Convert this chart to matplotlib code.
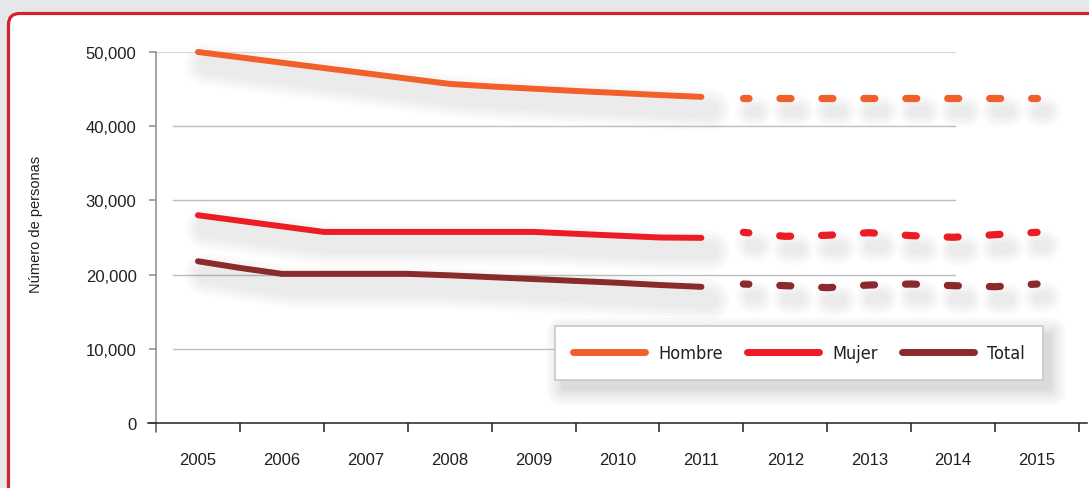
import matplotlib
matplotlib.use('Agg')
import matplotlib.pyplot as plt
import matplotlib.transforms as mtransforms
from matplotlib.lines import Line2D
from matplotlib.patches import FancyBboxPatch
from matplotlib.ticker import FuncFormatter, FixedLocator

plt.rcParams['lines.scale_dashes'] = False

years = [2005, 2006, 2007, 2008, 2009, 2010, 2011, 2012, 2013, 2014, 2015]

# recorded period, half-year steps
obs_x = [2005, 2005.5, 2006, 2006.5, 2007, 2007.5, 2008, 2008.5, 2009, 2009.5, 2010, 2010.5, 2011]
hombre_obs = [50000, 49280, 48560, 47840, 47130, 46410, 45700, 45350, 45050, 44750, 44480, 44200, 43950]
mujer_obs = [28000, 27250, 26500, 25750, 25750, 25750, 25750, 25750, 25750, 25500, 25250, 25000, 24950]
total_obs = [21800, 20900, 20100, 20100, 20100, 20100, 19900, 19650, 19400, 19150, 18900, 18600, 18350]

# projected period
proj_x = [2011.5, 2012, 2012.5, 2013, 2013.5, 2014, 2014.5, 2015]
hombre_proj = [43850, 43850, 43850, 43850, 43850, 43850, 43850, 43850]
mujer_proj = [25700, 25160, 25300, 25650, 25250, 25030, 25380, 25700]
total_proj = [18730, 18510, 18240, 18600, 18730, 18510, 18370, 18730]

labels = ['Hombre', 'Mujer', 'Total']
colors = ['#f15f2a', '#ed1c24', '#8b2a2d']

W, H = 1089, 489
fig = plt.figure(figsize=(W / 100, H / 100), dpi=100)
fig.patch.set_facecolor('#e6e7e8')

# white panel with red rounded border
panel = FancyBboxPatch((8.5 / 100, -0.3), 11.5, (H - 14.5) / 100 + 0.3,
                       boxstyle='round,pad=0,rounding_size=0.11',
                       transform=fig.dpi_scale_trans, facecolor='white',
                       edgecolor='#d0232a', linewidth=2.3, zorder=-3)
fig.patches.append(panel)

ax = fig.add_axes([156 / W, 65 / H, 923 / W, 371 / H])
ax.set_facecolor('none')
ax.set_zorder(1)

ax.set_xlim(2004.5, 2015.5)
ax.set_ylim(0, 50000)

# soft shadow under the lines
shadow_tf = ax.transData + mtransforms.ScaledTranslation(8 / 100, -13 / 100, fig.dpi_scale_trans)
dash = (3.95, (7.9, 22.3))

def draw_shadow(x, y, ls, widths, alpha):
    for w in widths:
        ax.plot(x, y, color='#58595b', lw=w * 0.72, alpha=alpha, transform=shadow_tf,
                linestyle=ls, solid_capstyle='round', dash_capstyle='round',
                solid_joinstyle='round', clip_on=False, zorder=1)

for obs, proj, c in zip([hombre_obs, mujer_obs, total_obs],
                        [hombre_proj, mujer_proj, total_proj], colors):
    draw_shadow(obs_x, obs, '-', [42, 36, 30, 24, 18], 0.022)
    draw_shadow(proj_x, proj, dash, [32, 26, 21, 16, 11], 0.024)
    ax.plot(obs_x, obs, color=c, lw=4.3, solid_capstyle='round',
            solid_joinstyle='round', clip_on=False, zorder=4)
    ax.plot(proj_x, proj, color=c, lw=5.2, linestyle=dash,
            dash_capstyle='round', clip_on=False, zorder=4)

# gridlines
for v in [10000, 20000, 30000, 40000]:
    ax.axhline(v, xmin=0.018, xmax=0.866, color='#bcbec0', lw=1.0, zorder=0.5)
ax.axhline(50000, xmin=0.0, xmax=0.866, color='#dcddde', lw=1.0, zorder=0.5)

# axes styling
for s in ['top', 'right']:
    ax.spines[s].set_visible(False)
ax.spines['left'].set_color('#8a8b8d')
ax.spines['left'].set_linewidth(1.1)
ax.spines['left'].set_bounds(-1200, 50000)
ax.spines['bottom'].set_color('#231f20')
ax.spines['bottom'].set_linewidth(1.1)
ax.spines['bottom'].set_bounds(2004.4, 2015.6)

ax.yaxis.set_major_locator(FixedLocator([0, 10000, 20000, 30000, 40000, 50000]))
ax.yaxis.set_major_formatter(FuncFormatter(lambda v, p: f'{v:,.0f}'))
ax.tick_params(axis='y', direction='out', length=5, width=1.1, color='#8a8b8d',
               pad=9, labelsize=12, labelcolor='#231f20')

bounds = [y - 0.5 for y in years] + [years[-1] + 0.5]
ax.xaxis.set_major_locator(FixedLocator(bounds))
ax.xaxis.set_minor_locator(FixedLocator(years))
ax.xaxis.set_major_formatter(FuncFormatter(lambda v, p: ''))
ax.xaxis.set_minor_formatter(FuncFormatter(lambda v, p: f'{v:.0f}'))
ax.tick_params(axis='x', which='major', direction='out', length=6.5, width=1.1, color='#231f20')
ax.tick_params(axis='x', which='minor', length=0, pad=21, labelsize=12, labelcolor='#231f20')

for t in ax.get_xticklabels(minor=True) + ax.get_yticklabels():
    t.set_family(['Liberation Sans', 'DejaVu Sans'])

fig.text(36 / W, 1 - 224 / H, 'Número de personas', rotation=90, ha='center', va='center',
         fontsize=10.5, color='#231f20', family=['Liberation Sans', 'DejaVu Sans'])

# legend with a blurred drop shadow
lx0, ly0, lx1, ly1 = 555, 327, 1042, 382
for e in [16, 13, 10, 7, 5, 3, 1]:
    sh = FancyBboxPatch(((lx0 + 8 - e) / 100, (H - ly1 - 8 - e) / 100),
                        (lx1 - lx0 + 2 * e) / 100, (ly1 - ly0 + 2 * e) / 100,
                        boxstyle='round,pad=0,rounding_size=%f' % (e / 100 + 0.001),
                        transform=fig.dpi_scale_trans, facecolor='#6d6e71',
                        edgecolor='none', alpha=0.035, zorder=-2)
    fig.patches.append(sh)

handles = [Line2D([], [], color=c, lw=5, solid_capstyle='round') for c in colors]
leg = ax.legend(handles, labels, ncol=3, loc='upper left',
                bbox_to_anchor=(lx0 / W, 1 - ly0 / H), bbox_transform=fig.transFigure,
                borderaxespad=0, frameon=True, fancybox=False, edgecolor='#c7c8ca',
                framealpha=1, handlelength=4.0, handletextpad=0.75, columnspacing=1.3,
                borderpad=1.0,
                prop={'family': 'DejaVu Sans', 'stretch': 'condensed', 'size': 13})
leg.get_frame().set_linewidth(1.2)
for t in leg.get_texts():
    t.set_color('#231f20')

fig.savefig('out.png', dpi=100, facecolor=fig.get_facecolor())
